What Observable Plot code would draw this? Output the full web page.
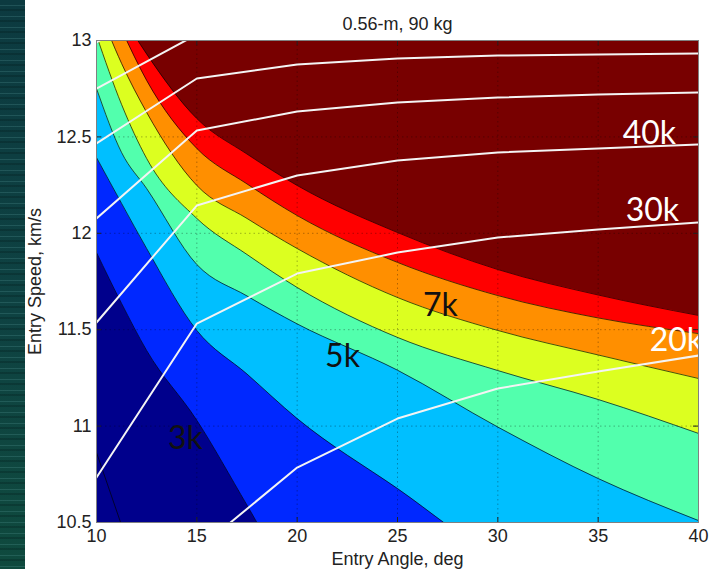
<!DOCTYPE html>
<html><head><meta charset="utf-8">
<script src="https://cdn.jsdelivr.net/npm/d3@7"></script>
<script src="https://cdn.jsdelivr.net/npm/@observablehq/plot@0.6"></script>
<style>
html,body{margin:0;padding:0;background:#fff;}
#wrap{position:relative;width:727px;height:569px;overflow:hidden;background:#fff;}
#strip{position:absolute;left:0;top:0;width:25px;height:569px;
 background:
  repeating-linear-gradient(180deg, rgba(0,0,0,0) 0px, rgba(0,0,0,0) 5px, rgba(110,180,180,0.20) 5px, rgba(110,180,180,0.20) 6px, rgba(0,0,0,0) 6px, rgba(0,0,0,0) 9px, rgba(0,20,20,0.25) 9px, rgba(0,20,20,0.25) 11px),
  linear-gradient(180deg,#0c3a40 0%, #0e4242 55%, #0f4a3e 100%);}
#chart svg{display:block;}
</style></head>
<body><div id="wrap"><div id="chart"></div><div id="strip"></div></div>
<script>
// ---- text ----
const title = "0.56-m, 90 kg";
const xLabel = "Entry Angle, deg";
const yLabel = "Entry Speed, km/s";
const xTicks = [10, 15, 20, 25, 30, 35, 40];
const yTicks = [10.5, 11, 11.5, 12, 12.5, 13];
const xDomain = [10, 40];
const yDomain = [10.5, 13];

// ---- filled-contour boundaries (entry speed at each entry angle) ----
const bandAngles = [10, 11.25, 12.5, 15, 17.5, 20, 25, 30, 35, 40];
const band3k = [11.900, 11.636, 11.392, 11.030, 10.590, 10.147, 9.800, 9.500, 9.300, 9.100];
const band4k = [12.393, 12.155, 11.921, 11.496, 11.270, 11.039, 10.676, 10.318, 10.150, 10.000];
const band5k = [12.751, 12.419, 12.232, 11.838, 11.675, 11.530, 11.290, 10.995, 10.728, 10.510];
const band6k = [13.026, 12.668, 12.388, 12.077, 11.890, 11.719, 11.460, 11.288, 11.138, 10.962];
const band7k = [13.195, 12.881, 12.627, 12.248, 12.077, 11.921, 11.667, 11.496, 11.369, 11.247];
const band8k = [13.358, 13.057, 12.793, 12.440, 12.256, 12.092, 11.849, 11.677, 11.561, 11.480];
const band9k = [13.363, 13.135, 12.930, 12.595, 12.411, 12.248, 12.004, 11.812, 11.680, 11.574];
const bandLevels = ["3k", "4k", "5k", "6k", "7k", "8k", "9k"];
const line2kAngles = [10, 11.5];
const line2kSpeeds = [10.863, 10.41];

// ---- white contour lines ----
const whiteAngles = [10, 15, 20, 25, 30, 35, 40];
const white80k = [12.99, 13.30, null, null, null, null, null];
const white70k = [12.751, 13.031, null, null, null, null, null];
const white60k = [12.466, 12.803, 12.876, 12.907, 12.922, 12.927, 12.933];
const white50k = [12.077, 12.533, 12.632, 12.678, 12.704, 12.720, 12.730];
const white40k = [11.537, 12.144, 12.300, 12.378, 12.419, 12.440, 12.461];
const white30k = [10.733, 11.532, 11.791, 11.900, 11.978, 12.020, 12.056];
const white20k = [null, 10.356, 10.785, 11.039, 11.195, 11.283, 11.366];
const whiteLevels = ["80k", "70k", "60k", "50k", "40k", "30k", "20k"];

// ---- contour labels ----
const whiteLabelTexts = ["40k", "30k", "20k"];
const whiteLabelAngles = [37.55, 37.70, 38.90];
const whiteLabelSpeeds = [12.518, 12.118, 11.444];
const blackLabelTexts = ["7k", "5k", "3k"];
const blackLabelAngles = [27.14, 22.26, 14.43];
const blackLabelSpeeds = [11.626, 11.361, 10.936];

// ---- styles ----
const baseColor = "#00008c";
const bandColors = ["#0028ff", "#00bfff", "#52ffad", "#dcff20", "#ff8f00", "#ff0000", "#780000"];

// ---- build tables ----
const bands = [band3k, band4k, band5k, band6k, band7k, band8k, band9k];
const bandTable = bandLevels.flatMap((lv, i) => bandAngles.map((a, j) => ({level: lv, angle: a, speed: bands[i][j]})));
const whites = [white80k, white70k, white60k, white50k, white40k, white30k, white20k];
const whiteTable = whiteLevels.flatMap((lv, i) => whiteAngles.map((a, j) => ({level: lv, angle: a, speed: whites[i][j]})));
const line2k = line2kAngles.map((a, i) => ({angle: a, speed: line2kSpeeds[i]}));
const whiteLabels = whiteLabelTexts.map((t, i) => ({text: t, angle: whiteLabelAngles[i], speed: whiteLabelSpeeds[i]}));
const blackLabels = blackLabelTexts.map((t, i) => ({text: t, angle: blackLabelAngles[i], speed: blackLabelSpeeds[i]}));

const W = 727, H = 569, mL = 96, mR = 29, mT = 40, mB = 47;
const fw = W - mL - mR, fh = H - mT - mB;

const chart = Plot.plot({
  width: W, height: H,
  marginLeft: mL, marginRight: mR, marginTop: mT, marginBottom: mB,
  style: {fontFamily: "'Liberation Sans', Arial, sans-serif", fontSize: "18px", color: "#222", background: "transparent"},
  x: {domain: xDomain, ticks: xTicks, tickSize: 0, tickPadding: 7, tickFormat: d => String(d),
      label: xLabel, labelAnchor: "center", labelOffset: 42, labelArrow: "none"},
  y: {domain: yDomain, ticks: yTicks, tickSize: 0, tickPadding: 5, tickFormat: d => String(d),
      label: yLabel, labelAnchor: "center", labelOffset: 68, labelArrow: "none"},
  color: {domain: bandLevels, range: bandColors},
  marks: [
    Plot.frame({fill: baseColor}),
    ...bandLevels.map(lv => Plot.areaY(bandTable.filter(d => d.level === lv),
      {x: "angle", y1: "speed", y2: yDomain[1], fill: "level", curve: "monotone-x", clip: true})),
    Plot.line(bandTable, {x: "angle", y: "speed", z: "level", stroke: "#000", strokeWidth: 0.9, strokeOpacity: 0.75, curve: "monotone-x", clip: true}),
    Plot.line(line2k, {x: "angle", y: "speed", stroke: "#000", strokeWidth: 0.9, strokeOpacity: 0.75, clip: true}),
    Plot.ruleX(xTicks, {stroke: "#000", strokeOpacity: 0.3, strokeDasharray: "1.5,3"}),
    Plot.ruleY(yTicks, {stroke: "#000", strokeOpacity: 0.3, strokeDasharray: "1.5,3"}),
    Plot.line(whiteTable, {x: "angle", y: "speed", z: "level", stroke: "#f4f4f4", strokeWidth: 2, clip: true}),
    Plot.text(whiteLabels, {x: "angle", y: "speed", text: "text", fill: "white", fontFamily: "Lato, 'Open Sans', sans-serif", fontSize: 32}),
    Plot.text(blackLabels, {x: "angle", y: "speed", text: "text", fill: "#111", fontFamily: "Lato, 'Open Sans', sans-serif", fontSize: 32}),
    Plot.ruleX(xTicks, {stroke: "#222", insetTop: fh - 5}),
    Plot.ruleX(xTicks, {stroke: "#222", insetBottom: fh - 5}),
    Plot.ruleY(yTicks, {stroke: "#222", insetRight: fw - 5}),
    Plot.ruleY(yTicks, {stroke: "#222", insetLeft: fw - 5}),
    Plot.frame({stroke: "#808080"}),
    Plot.text([title], {text: d => d, frameAnchor: "top", dy: -23, fontSize: 18, fill: "#222"})
  ]
});
document.getElementById("chart").appendChild(chart);
</script>
</body></html>
